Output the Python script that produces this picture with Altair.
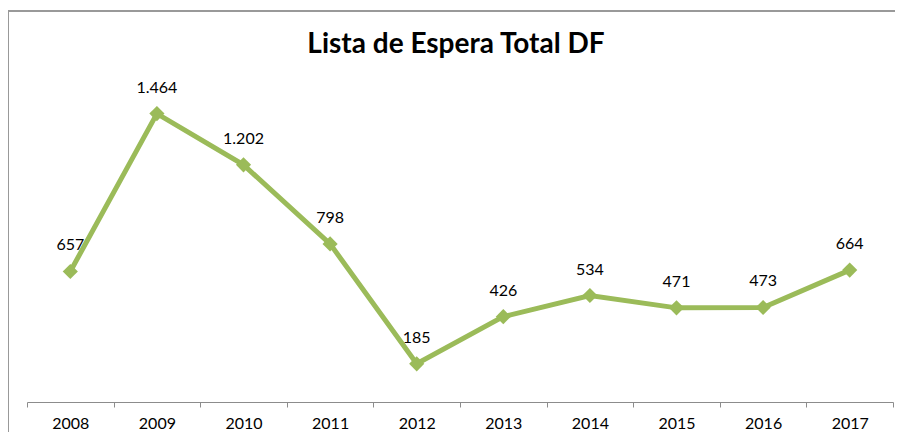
import altair as alt
import pandas as pd

years = ["2008", "2009", "2010", "2011", "2012", "2013", "2014", "2015", "2016", "2017"]
values = [657, 1464, 1202, 798, 185, 426, 534, 471, 473, 664]
labels = [f"{v:,}".replace(",", ".") for v in values]
title_text = "Lista de Espera Total DF"

df = pd.DataFrame({"year": years, "value": values, "label": labels})

FONT = "Lato"
GREEN = "#9BBB59"

x_enc = alt.X(
    "year:N",
    sort=years,
    scale=alt.Scale(paddingInner=0, paddingOuter=0),
    axis=alt.Axis(
        title=None,
        labelAngle=0,
        labelFontSize=16,
        labelColor="#000000",
        labelFont=FONT,
        labelPadding=8,
        tickBand="extent",
        tickSize=5,
        tickColor="#8C8C8C",
        domainColor="#8C8C8C",
        domainWidth=1,
        offset=2,
        grid=False,
    ),
)
y_enc = alt.Y("value:Q", scale=alt.Scale(domain=[0, 1600]), axis=None)

base = alt.Chart(df)

line = base.mark_line(color=GREEN, strokeWidth=5).encode(x=x_enc, y=y_enc)
points = base.mark_point(shape="diamond", filled=True, color=GREEN, opacity=1, size=230).encode(x=x_enc, y=y_enc)
text = base.mark_text(dy=-26, fontSize=16, font=FONT, color="#000000").encode(x=x_enc, y=y_enc, text="label:N")

one = pd.DataFrame({"t": [title_text]})
title = alt.Chart(one).mark_text(
    fontSize=28, fontWeight="bold", font=FONT, color="#000000", baseline="middle", align="center"
).encode(x=alt.value(429), y=alt.value(-42), text="t:N")

frame_top = alt.Chart(one).mark_rule(color="#999999", strokeWidth=2).encode(
    x=alt.value(-19), x2=alt.value(900), y=alt.value(-76)
)
frame_left = alt.Chart(one).mark_rule(color="#999999", strokeWidth=2).encode(
    x=alt.value(-19), y=alt.value(-76), y2=alt.value(420)
)

chart = (
    alt.layer(frame_top, frame_left, title, line, points, text)
    .properties(
        width=866,
        height=313,
        autosize=alt.AutoSizeParams(type="none"),
        padding={"left": 19, "top": 79, "right": 2, "bottom": 32},
        background="#FFFFFF",
    )
    .configure_view(strokeWidth=0, stroke=None)
)

chart.save("out.html", embed_options={"renderer": "svg", "actions": False})
